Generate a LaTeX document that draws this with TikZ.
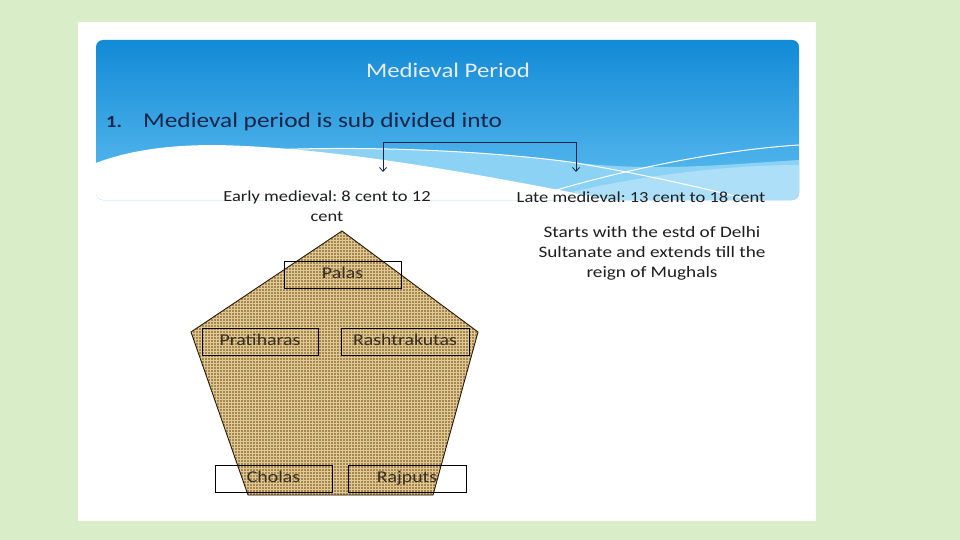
\documentclass[tikz,border=0pt]{standalone}
\usepackage{fontspec}
\setmainfont[FakeStretch=1.2]{Carlito}
\usetikzlibrary{arrows.meta,patterns}
\frenchspacing
\definecolor{pagebg}{RGB}{217,237,201}
\definecolor{bluetop}{RGB}{18,138,214}
\definecolor{bluebot}{RGB}{95,190,240}
\definecolor{bluelight}{RGB}{140,210,245}
\definecolor{navy}{RGB}{22,38,72}
\definecolor{burlap}{RGB}{165,133,82}
\definecolor{burlapthread}{RGB}{225,202,145}
\definecolor{txt}{RGB}{30,30,30}
\tikzset{
  itembox/.style={draw=black, line width=0.8pt, minimum height=27pt, inner sep=0pt, text height=11pt, text depth=3pt, font=\fontsize{16.5}{19}\selectfont, text=txt!85!brown},
  label/.style={font=\fontsize{15.4}{19.5}\selectfont, text=txt, align=center, inner sep=0pt},
  link/.style={draw=navy, line width=0.8pt, {Straight Barb[length=4pt,width=7pt]}-{Straight Barb[length=4pt,width=7pt]}},
}
\begin{document}
\begin{tikzpicture}[x=1pt,y=-1pt]
\useasboundingbox (0,0) rectangle (960,540);
\fill[pagebg] (0,0) rectangle (960,540);
\fill[white] (78,22) rectangle (816,521);
% header
\begin{scope}
\clip[rounded corners=7pt] (96,40) rectangle (799,200);
\shade[top color=bluetop, bottom color=bluebot] (96,40) rectangle (799,200);
\fill[bluelight] (250,151) .. controls (350,145) and (480,150) .. (570,162) .. controls (650,172) and (720,165) .. (799,160) -- (799,200) -- (96,200) -- cycle;
\fill[white!30!bluelight] (540,200) .. controls (620,178) and (720,165) .. (799,165) -- (799,200) -- cycle;
\draw[white, line width=1pt] (250,151) .. controls (350,145) and (480,150) .. (570,162) .. controls (650,175) and (720,192) .. (770,205);
\draw[white, line width=1pt] (540,195) .. controls (620,170) and (720,150) .. (799,145);
\fill[white] (96,163) .. controls (130,150) and (170,145) .. (215,145) .. controls (330,147) and (470,172) .. (620,202) -- (96,202) -- cycle;
\end{scope}
\node[font=\fontsize{20.7}{24}\selectfont, text=white!92!black] (title) at (448,70) {Medieval Period};
\node[font=\bfseries\fontsize{17}{22}\selectfont, text=navy, anchor=west, inner sep=0pt] (num) at (106,122) {1.};
\node[font=\fontsize{21.1}{26}\selectfont, text=navy, anchor=west, inner sep=0pt] (head) at (143,122) {Medieval period is sub divided into};
% labels
\node[label] (early) at (327,206) {Early medieval: 8 cent to 12\\cent};
\node[label] (late) at (641,197) {Late medieval: 13 cent to 18 cent};
\node[label, font=\fontsize{16}{20}\selectfont] (starts) at (652,253) {Starts with the estd of Delhi\\Sultanate and extends till the\\reign of Mughals};
% connector
\coordinate (aL) at (383,172);
\coordinate (cL) at (383,142);
\coordinate (cR) at (576,142);
\coordinate (aR) at (576,172);
\draw[link] (aL) -- (cL) -- (cR) -- (aR);
% pentagon
\coordinate (pT) at (342,231);
\coordinate (pR) at (478,332);
\coordinate (pBR) at (433,495);
\coordinate (pBL) at (248,495);
\coordinate (pL) at (191,332);
\fill[burlap] (pT) -- (pR) -- (pBR) -- (pBL) -- (pL) -- cycle;
\fill[pattern=grid, pattern color=burlapthread] (pT) -- (pR) -- (pBR) -- (pBL) -- (pL) -- cycle;
\draw[black!80!brown, line width=0.9pt] (pT) -- (pR) -- (pBR) -- (pBL) -- (pL) -- cycle;
% boxes
\node[itembox, minimum width=117pt] (palas) at (342.5,274.5) {Palas};
\node[itembox, minimum width=116pt] (prat) at (260,341.5) {Pratiharas};
\node[itembox, minimum width=128pt] (rash) at (405,341.5) {Rashtrakutas};
\node[itembox, minimum width=117pt] (chol) at (273.5,478.5) {Cholas};
\node[itembox, minimum width=118pt] (rajp) at (407,478.5) {Rajputs};
\end{tikzpicture}
\end{document}
